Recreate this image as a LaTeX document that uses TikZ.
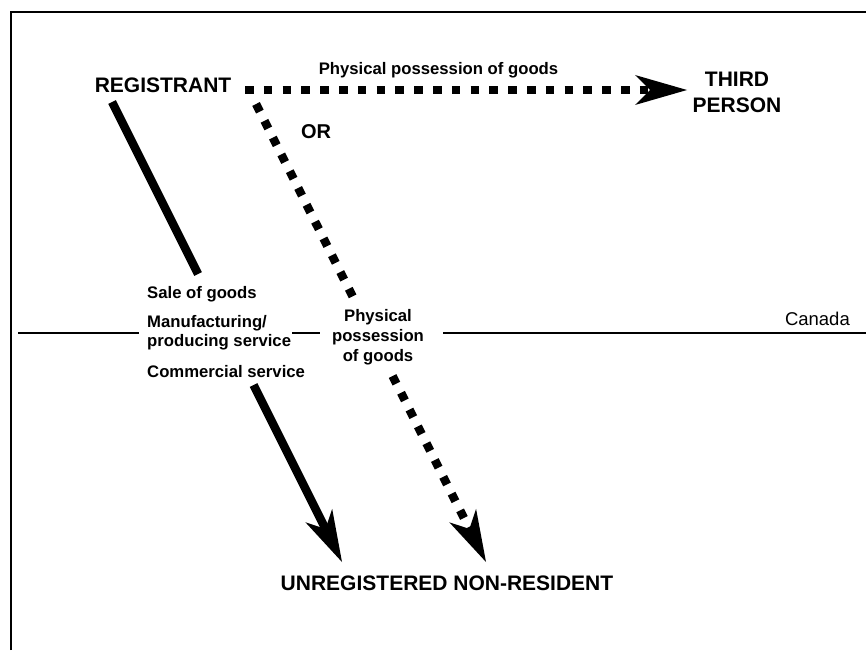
\documentclass[tikz,border=0pt]{standalone}
\usepackage{fontspec}
\setmainfont{Liberation Sans}
\usetikzlibrary{arrows.meta}
\tikzset{
  frameline/.style={line width=1.5pt, line cap=butt},
  borderline/.style={line width=1.5pt},
  solidlink/.style={line width=8.5pt},
  dotlink/.style={line width=8.5pt, dash pattern=on 8.5pt off 10.3pt},
  bigtip/.style={-{Stealth[length=52pt,width=30pt,inset=15pt,line width=0pt]}},
  bigtxt/.style={inner sep=0pt, anchor=base, font=\fontsize{21}{25}\selectfont\bfseries},
  ortxt/.style={inner sep=0pt, anchor=base, font=\fontsize{20}{24}\selectfont\bfseries},
  smalltxt/.style={inner sep=0pt, anchor=base, font=\fontsize{16.7}{20}\selectfont\bfseries},
  lefttxt/.style={smalltxt, anchor=base west},
  regtxt/.style={inner sep=0pt, anchor=base east, font=\fontsize{18.5}{22}\selectfont}
}
\begin{document}
\begin{tikzpicture}[x=1pt, y=-1pt]
\useasboundingbox (0,0) rectangle (866,650);
% frame
\draw[borderline] (11,650) -- (11,12) -- (866,12);
% text nodes
\node[bigtxt] (reg) at (163,93) {REGISTRANT};
\node[bigtxt] (third) at (737,87) {THIRD};
\node[bigtxt] (person) at (737,112) {PERSON};
\node[bigtxt] (unreg) at (447,590) {UNREGISTERED NON-RESIDENT};
\node[ortxt] (or) at (316,138) {OR};
\node[smalltxt] (toplab) at (438.5,75) {Physical possession of goods};
\node[lefttxt] (sale) at (147,298) {Sale of goods};
\node[lefttxt] (manu) at (147,327.5) {Manufacturing/};
\node[lefttxt] (prod) at (147,346) {producing service};
\node[lefttxt] (comm) at (147,377) {Commercial service};
\node[smalltxt] (phys1) at (378,321.7) {Physical};
\node[smalltxt] (phys2) at (378,341.7) {possession};
\node[smalltxt] (phys3) at (378,361.7) {of goods};
\node[regtxt] (canada) at (850,325) {Canada};
% coordinates for connectors
\coordinate (hA) at (245,90);
\coordinate (hB) at (687,90);
\coordinate (sA) at (112,102);
\coordinate (sB) at (198,274);
\coordinate (sC) at (253.5,385);
\coordinate (sD) at (342,562);
\coordinate (dA) at (256,104);
\coordinate (dB) at (354.4,300);
\coordinate (dC) at (392.6,376);
\coordinate (dD) at (486,562);
% Canada line
\draw[frameline] (18,333) -- (139,333);
\draw[frameline] (292,333) -- (320,333);
\draw[frameline] (443,333) -- (866,333);
% connectors
\draw[dotlink, bigtip] (hA) -- (hB);
\draw[solidlink] (sA) -- (sB);
\draw[solidlink, bigtip] (sC) -- (sD);
\draw[dotlink] (dA) -- (dB);
\draw[dotlink, bigtip] (dC) -- (dD);
\end{tikzpicture}
\end{document}
